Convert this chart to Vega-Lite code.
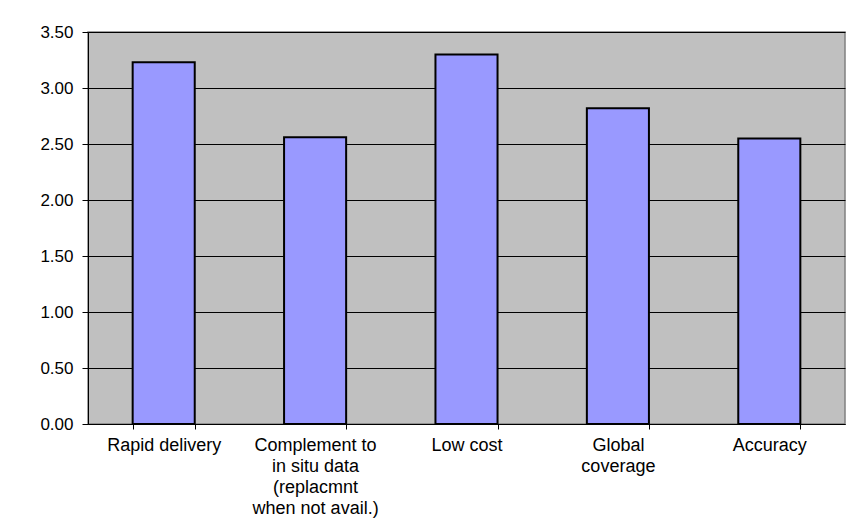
{
  "$schema": "https://vega.github.io/schema/vega-lite/v6.json",
  "autosize": "none",
  "width": 757,
  "height": 392,
  "padding": {"left": 88, "top": 32, "right": 9, "bottom": 98},
  "background": "white",
  "data": {"values": [
    {"cat": "Rapid delivery", "value": 3.23, "order": 1},
    {"cat": "Complement to in situ data (replacmnt when not avail.)", "value": 2.56, "order": 2},
    {"cat": "Low cost", "value": 3.30, "order": 3},
    {"cat": "Global coverage", "value": 2.82, "order": 4},
    {"cat": "Accuracy", "value": 2.55, "order": 5}
  ]},
  "config": {
    "view": {"fill": "#C0C0C0", "stroke": "#808080", "strokeWidth": 1.5},
    "font": "Liberation Sans"
  },
  "mark": {"type": "bar", "fill": "#9999FF", "stroke": "black", "strokeWidth": 2},
  "encoding": {
    "x": {
      "field": "cat", "type": "nominal", "sort": {"field": "order"},
      "scale": {"paddingInner": 0.59, "paddingOuter": 0.295},
      "axis": {
        "title": null, "labelAngle": 0, "labelFontSize": 18, "labelColor": "black",
        "labelFont": "Liberation Sans",
        "labelPadding": 7, "domainColor": "black", "tickColor": "black", "tickSize": 5,
        "tickBand": "extent", "labelLineHeight": 21, "labelLimit": 220,
        "labelExpr": "datum.value == 'Complement to in situ data (replacmnt when not avail.)' ? ['Complement to', 'in situ data', '(replacmnt', 'when not avail.)'] : datum.value == 'Global coverage' ? ['Global', 'coverage'] : datum.value"
      }
    },
    "y": {
      "field": "value", "type": "quantitative",
      "scale": {"domain": [0, 3.5], "nice": false},
      "axis": {
        "title": null, "values": [0, 0.5, 1, 1.5, 2, 2.5, 3, 3.5], "format": ".2f",
        "labelFontSize": 17, "labelColor": "black", "labelPadding": 9,
        "labelFont": "Liberation Sans",
        "grid": true, "gridColor": "black", "gridOpacity": 1, "gridWidth": 1,
        "domainColor": "black", "tickColor": "black", "tickSize": 6
      }
    }
  }
}
